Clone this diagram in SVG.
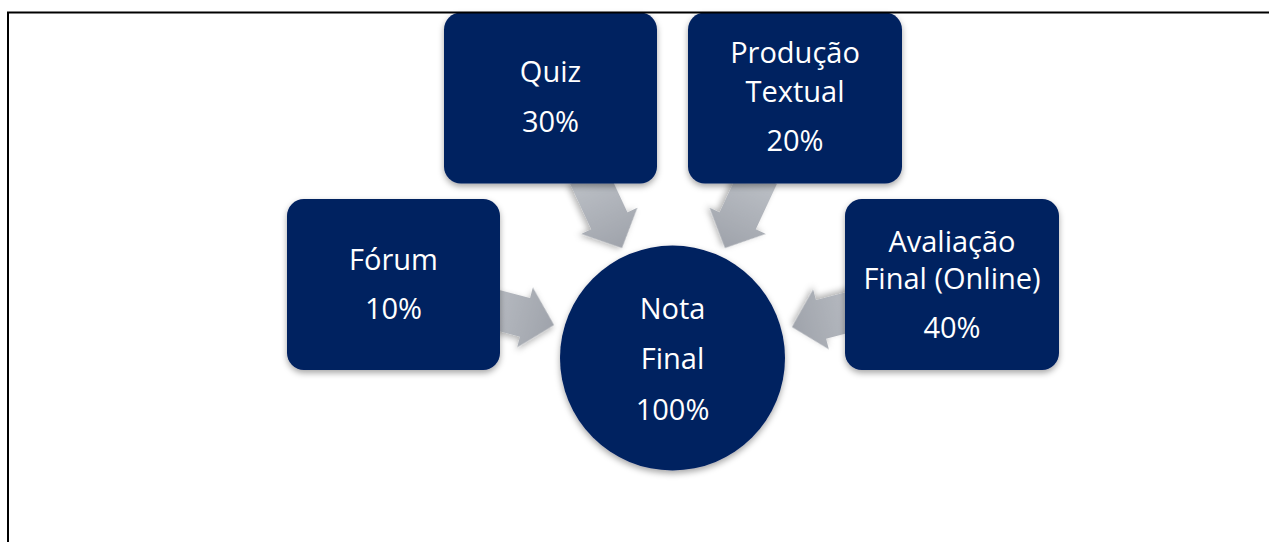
<svg xmlns="http://www.w3.org/2000/svg" width="1269" height="542" viewBox="0 0 1269 542">
  <style>
    .node { fill: #002060; filter: url(#shadow); }
    .arrow { fill: url(#arrowGrad); filter: url(#ashadow); }
    .label { fill: #ffffff; font-family: "Open Sans", "Noto Sans", "Liberation Sans", sans-serif; font-size: 29px; text-anchor: middle; }
    .frame { fill: none; stroke: #000000; stroke-width: 2; }
  </style>
  <defs>
    <filter id="shadow" x="-10%" y="-10%" width="120%" height="125%">
      <feDropShadow dx="0" dy="3" stdDeviation="3" flood-color="#000000" flood-opacity="0.35"/>
    </filter>
    <filter id="ashadow" x="-20%" y="-20%" width="140%" height="140%">
      <feDropShadow dx="0" dy="3" stdDeviation="3" flood-color="#000000" flood-opacity="0.3"/>
    </filter>
    <linearGradient id="arrowGrad" x1="0" y1="0" x2="1" y2="0">
      <stop offset="0" stop-color="#bcc0c6"/>
      <stop offset="1" stop-color="#9fa3ab"/>
    </linearGradient>
    <path id="arrowShape" d="M0,0 L-30,-31 L-30,-20 L-80,-20 L-80,20 L-30,20 L-30,31 Z"/>
  </defs>

  <rect x="0" y="0" width="1269" height="542" fill="#ffffff"/>

  <g id="connectors">
    <use href="#arrowShape" class="arrow" transform="translate(554,325) rotate(14.7)"/>
    <use href="#arrowShape" class="arrow" transform="translate(622,248) rotate(65)"/>
    <use href="#arrowShape" class="arrow" transform="translate(725,248) rotate(115)"/>
    <use href="#arrowShape" class="arrow" transform="translate(792,327) rotate(165.3)"/>
  </g>

  <g id="node-forum">
    <rect class="node" x="287" y="199" width="213" height="171" rx="17" ry="17"/>
    <text class="label" x="393.5" y="270">Fórum</text>
    <text class="label" x="393.5" y="319">10%</text>
  </g>

  <g id="node-quiz">
    <rect class="node" x="444" y="12.5" width="213" height="171" rx="17" ry="17"/>
    <text class="label" x="550.5" y="82">Quiz</text>
    <text class="label" x="550.5" y="132">30%</text>
  </g>

  <g id="node-producao">
    <rect class="node" x="688" y="12.5" width="214" height="171" rx="17" ry="17"/>
    <text class="label" x="795" y="63">Produção</text>
    <text class="label" x="795" y="102">Textual</text>
    <text class="label" x="795" y="151">20%</text>
  </g>

  <g id="node-avaliacao">
    <rect class="node" x="845" y="199" width="214" height="171" rx="17" ry="17"/>
    <text class="label" x="952" y="252">Avaliação</text>
    <text class="label" x="952" y="289">Final (Online)</text>
    <text class="label" x="952" y="338">40%</text>
  </g>

  <g id="node-nota-final">
    <circle class="node" cx="672.5" cy="358" r="112.5"/>
    <text class="label" x="672.5" y="319">Nota</text>
    <text class="label" x="672.5" y="369">Final</text>
    <text class="label" x="672.5" y="420">100%</text>
  </g>

  <path class="frame" d="M8,542 V12.5 H1269"/>
</svg>
